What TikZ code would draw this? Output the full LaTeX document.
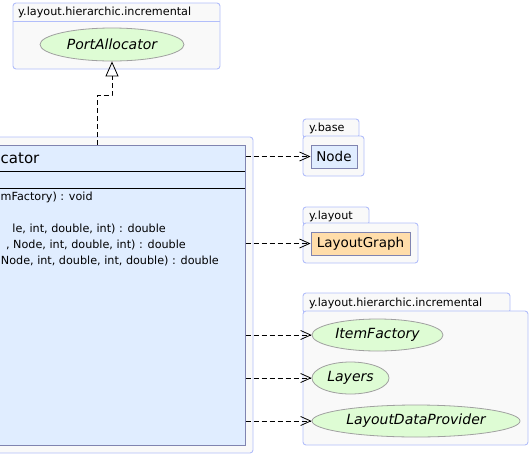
\documentclass[tikz,border=0pt]{standalone}
\usepackage{fontspec}
\setmainfont{DejaVu Sans}
\usetikzlibrary{shapes.geometric,arrows.meta}
\definecolor{pkgborder}{RGB}{178,190,250}
\definecolor{pkgfill}{RGB}{249,249,249}
\definecolor{clsfill}{RGB}{224,237,255}
\definecolor{clsborder}{RGB}{128,132,176}
\definecolor{ellfill}{RGB}{222,252,212}
\definecolor{ellborder}{RGB}{160,160,160}
\definecolor{lgfill}{RGB}{255,221,170}
\tikzset{
  pkgbox/.style={draw=pkgborder,fill=pkgfill,line width=0.9pt,rounded corners=3pt},
  pkglabel/.style={anchor=west,inner sep=0pt,font=\fontsize{11.2}{13}\selectfont},
  ell/.style={ellipse,draw=ellborder,fill=ellfill,line width=0.8pt,inner sep=0pt,
    minimum height=32pt,font=\fontsize{14}{16}\selectfont\itshape},
  cbox/.style={rectangle,draw=clsborder,fill=clsfill,line width=1pt,inner sep=0pt,
    minimum height=23pt,font=\fontsize{13.5}{15}\selectfont},
  clsbox/.style={rectangle,draw=clsborder,fill=clsfill,line width=1pt,inner sep=0pt},
  meth/.style={anchor=east,inner sep=0pt,font=\fontsize{11.2}{13}\selectfont},
  dep/.style={dash pattern=on 5pt off 3pt,line width=0.8pt,
    -{Straight Barb[length=10pt,width=9pt,line width=0.8pt]}},
  inh/.style={dash pattern=on 5pt off 3pt,line width=0.8pt,
    -{Triangle[open,length=15pt,width=13pt,line width=0.8pt]}}
}
\begin{document}
\begin{tikzpicture}[x=1pt,y=-1pt]
\useasboundingbox (0,0) rectangle (531,456);
\clip (0,0) rectangle (531,456);
% top package
\draw[pkgbox] (13,3) rectangle (220,69);
\draw[draw=pkgborder,line width=0.9pt] (13,21) -- (220,21);
\node[pkglabel] (ptop) at (18,12) {y.layout.hierarchic.incremental};
\node[ell,minimum width=144pt,minimum height=33pt] (pa) at (112,44.5) {PortAllocator};
% main class package + class
\draw[pkgbox] (-20,137) rectangle (253,453);
\node[clsbox,minimum width=265pt,minimum height=300pt] (cls) at (112.5,295) {};
\draw[black,line width=1pt] (-20,171) -- (245,171);
\draw[black,line width=1pt] (-20,188) -- (245,188);
\node[anchor=west,inner sep=0pt,font=\fontsize{15}{18}\selectfont] (cname) at (0.5,158) {cator};
\node[meth,anchor=west] (m1) at (0.5,197) {mFactory) : void};
\node[meth] (m2) at (166,229) {le, int, double, int) : double};
\node[meth] (m3) at (186,245) {, Node, int, double, int) : double};
\node[meth] (m4) at (219,261) {Node, int, double, int, double) : double};
% y.base
\draw[pkgbox] (303,119) rectangle (359,138);
\draw[pkgbox] (303,136) rectangle (364,176);
\node[pkglabel] (pbase) at (309,128) {y.base};
\node[cbox,minimum width=46pt] (node) at (334,156.5) {Node};
% y.layout
\draw[pkgbox] (303,207) rectangle (369,225);
\draw[pkgbox] (303,223) rectangle (418,263);
\node[pkglabel] (playout) at (309,216) {y.layout};
\node[cbox,fill=lgfill,minimum width=99pt] (lg) at (360.5,243.5) {LayoutGraph};
% bottom package
\draw[pkgbox] (303,293) rectangle (510,313);
\draw[pkgbox] (303,311) rectangle (528,445);
\node[pkglabel] (pinc) at (309,303) {y.layout.hierarchic.incremental};
\node[ell,minimum width=131pt] (itf) at (377.5,335) {ItemFactory};
\node[ell,minimum width=77pt] (lay) at (350.5,378) {Layers};
\node[ell,minimum width=208pt] (ldp) at (416,421) {LayoutDataProvider};
% connectors
\coordinate (bend) at (97,95);
\draw[inh] (cls.north -| bend) -- (bend) -| (pa.south);
\draw[dep] (cls.east |- node.west) -- (node.west);
\draw[dep] (cls.east |- lg.west) -- (lg.west);
\draw[dep] (cls.east |- itf.west) -- (itf.west);
\draw[dep] (cls.east |- lay.west) -- (lay.west);
\draw[dep] (cls.east |- ldp.west) -- (ldp.west);
\end{tikzpicture}
\end{document}
